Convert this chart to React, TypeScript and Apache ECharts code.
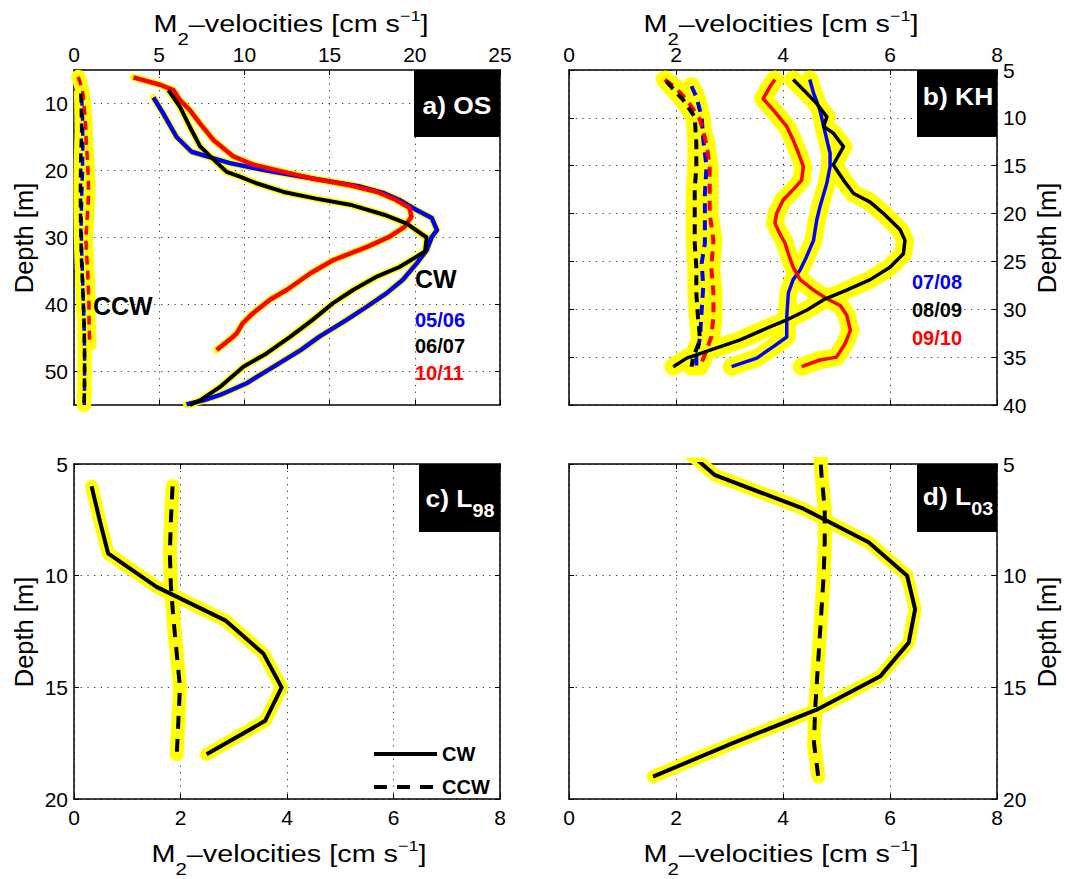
import React, { useEffect, useRef } from 'react';
import * as echarts from 'echarts';

const FONT = '"Liberation Sans", Arial, Helvetica, sans-serif';

// ---------- Panel a) OS : CW profiles ----------
const aBlueDepth = [9.1, 11.5, 15.0, 17.2, 17.9, 18.9, 20.0, 20.9, 21.7, 22.4, 23.4, 24.4, 25.9, 27.1, 28.9, 29.9, 31.9, 33.9, 36.3, 38.3, 40.3, 42.3, 44.8, 46.8, 49.3, 51.8, 53.5, 54.3, 54.9];
const aBlueVel = [4.66, 5.24, 6.02, 6.9, 7.8, 9.15, 11.3, 13.3, 15.2, 16.8, 18.2, 19.1, 20.1, 21.0, 21.3, 21.0, 20.7, 20.1, 19.3, 18.35, 17.2, 16.0, 14.4, 13.3, 11.7, 10.1, 8.57, 7.6, 6.6];
const aBlackDepth = [8.0, 10.5, 13.5, 16.4, 17.9, 20.2, 20.9, 21.9, 23.2, 24.2, 25.1, 26.6, 27.9, 30.0, 32.1, 34.4, 35.8, 37.8, 39.8, 42.3, 44.8, 47.3, 49.3, 52.3, 54.3, 55.0];
const aBlackVel = [5.54, 6.22, 6.8, 7.4, 8.0, 8.96, 9.74, 10.7, 12.3, 14.2, 16.2, 18.2, 19.5, 20.7, 20.6, 19.1, 17.8, 16.4, 15.2, 14.0, 12.7, 11.3, 9.94, 8.57, 7.4, 6.8];
const aRedDepth = [6.1, 7.2, 8.0, 9.5, 11.0, 13.0, 15.5, 17.9, 19.1, 20.2, 21.3, 22.2, 23.2, 24.4, 25.6, 26.9, 28.4, 29.9, 31.4, 33.4, 35.3, 37.8, 39.3, 41.3, 42.8, 44.3, 45.0, 46.8];
const aRedVel = [3.48, 5.05, 5.83, 6.22, 6.8, 7.4, 8.2, 9.35, 10.5, 12.3, 14.2, 16.2, 17.8, 18.9, 19.7, 19.8, 19.4, 18.5, 17.2, 15.2, 13.9, 12.5, 11.5, 10.5, 9.9, 9.55, 9.25, 8.37];
// Panel a) CCW profiles
const aCcwBlackDepth = [8.5, 10, 14, 18, 22, 26, 30, 34, 38, 42, 46, 50, 54, 55];
const aCcwBlackVel = [0.4, 0.42, 0.45, 0.4, 0.38, 0.38, 0.4, 0.45, 0.52, 0.58, 0.62, 0.62, 0.6, 0.58];
const aCcwBlueDepth = [9, 12, 16, 20, 24, 28, 32, 36, 40, 44, 48, 52, 55];
const aCcwBlueVel = [0.45, 0.5, 0.52, 0.5, 0.45, 0.42, 0.45, 0.5, 0.55, 0.6, 0.62, 0.62, 0.6];
const aCcwRedDepth = [6, 8, 10, 12, 14, 16, 18, 20, 22, 24, 26, 28, 30, 32, 34, 36, 38, 40, 42, 44, 46];
const aCcwRedVel = [0.25, 0.5, 0.58, 0.65, 0.7, 0.72, 0.78, 0.82, 0.85, 0.85, 0.8, 0.75, 0.7, 0.72, 0.78, 0.82, 0.85, 0.88, 0.88, 0.9, 0.92];

// ---------- Panel b) KH ----------
const bBlackDepth = [6.0, 7.4, 8.5, 9.9, 10.9, 11.6, 13.0, 14.9, 16.5, 17.9, 18.8, 20.0, 21.7, 22.8, 24.2, 25.6, 26.9, 28.0, 29.0, 30.1, 31.1, 32.0, 33.2, 34.4, 35.1, 36.0];
const bBlackVel = [4.19, 4.44, 4.63, 4.82, 4.76, 4.94, 5.13, 4.94, 5.13, 5.32, 5.63, 5.88, 6.19, 6.28, 6.25, 6.0, 5.63, 5.19, 4.76, 4.44, 4.07, 3.69, 3.2, 2.57, 2.2, 1.95];
const bBlueDepth = [6.0, 7.4, 9.2, 11.6, 13.7, 15.1, 16.8, 19.3, 20.7, 22.8, 24.5, 25.9, 26.9, 28.3, 30.8, 32.9, 33.9, 35.1, 36.0];
const bBlueVel = [4.5, 4.57, 4.69, 4.79, 4.88, 4.88, 4.82, 4.69, 4.63, 4.57, 4.44, 4.32, 4.19, 4.1, 4.07, 4.07, 3.82, 3.51, 3.04];
const bRedDepth = [6.0, 6.7, 8.0, 9.2, 10.9, 12.3, 13.7, 15.1, 16.5, 17.5, 18.6, 20.0, 21.0, 22.1, 23.1, 24.2, 25.6, 26.9, 28.0, 28.9, 29.6, 30.6, 32.2, 33.6, 35.0, 35.3, 36.0];
const bRedVel = [3.85, 3.76, 3.63, 3.82, 4.07, 4.19, 4.29, 4.38, 4.35, 4.19, 4.0, 3.88, 3.85, 3.94, 4.04, 4.1, 4.19, 4.32, 4.57, 4.82, 5.07, 5.19, 5.26, 5.16, 5.0, 4.69, 4.35];
const bCcwRedDepth = [6.0, 6.9, 8.1, 10.2, 12.7, 15.1, 17.5, 20.0, 22.8, 25.6, 28.3, 30.8, 32.9, 34.3, 36.0];
const bCcwRedVel = [1.79, 2.0, 2.2, 2.45, 2.57, 2.63, 2.63, 2.63, 2.7, 2.66, 2.7, 2.7, 2.66, 2.57, 2.45];
const bCcwBlueDepth = [6.7, 7.8, 9.9, 12.3, 15.1, 17.9, 20.3, 23.1, 25.2, 27.6, 30.1, 32.9, 35.0, 36.0];
const bCcwBlueVel = [2.29, 2.38, 2.48, 2.51, 2.57, 2.54, 2.54, 2.54, 2.48, 2.51, 2.48, 2.45, 2.38, 2.38];
const bCcwBlackDepth = [6.2, 8.1, 9.9, 12.7, 15.1, 17.5, 20.3, 23.1, 25.6, 28.3, 30.8, 33.2, 35.0, 36.0];
const bCcwBlackVel = [1.82, 2.13, 2.35, 2.38, 2.38, 2.35, 2.35, 2.35, 2.38, 2.38, 2.41, 2.45, 2.32, 2.29];

// ---------- Panel c) L98 ----------
const cDepth = [6, 7.5, 9, 10.5, 12, 13.5, 15, 16.5, 18];
const cCwVel = [0.33, 0.48, 0.64, 1.55, 2.84, 3.56, 3.9, 3.59, 2.49];
const cCcwVel = [1.85, 1.82, 1.8, 1.82, 1.87, 1.93, 1.99, 1.96, 1.93];

// ---------- Panel d) L03 ----------
const dDepth = [4, 5.5, 7, 8.5, 10, 11.5, 13, 14.5, 16, 17.5, 19];
const dCwVel = [2.0, 2.73, 4.38, 5.6, 6.32, 6.47, 6.35, 5.82, 4.63, 3.06, 1.57];
const dCcwVel = [4.68, 4.72, 4.78, 4.78, 4.76, 4.72, 4.68, 4.64, 4.6, 4.58, 4.66];

// Axis ticks
const aDepthTicks = [10, 20, 30, 40, 50];

const BLUE = '#0000ff';
const RED = '#ff0000';
const BLACK = '#000000';
const YELLOW = '#ffff00';

const zip = (v: number[], d: number[]) => v.map((x, i) => [x, d[i]]);

function band(g: number, v: number[], d: number[], width: number, name: string) {
  return {
    type: 'line', name, xAxisIndex: 2 * g, yAxisIndex: 2 * g, data: zip(v, d),
    symbol: 'none', silent: true, z: 2, animation: false,
    itemStyle: { color: YELLOW },
    lineStyle: { color: YELLOW, width, cap: 'round', join: 'round' },
  };
}
function ln(g: number, v: number[], d: number[], color: string, width: number, dashed: boolean, name: string, dash?: number[]) {
  return {
    type: 'line', name, xAxisIndex: 2 * g, yAxisIndex: 2 * g, data: zip(v, d),
    symbol: 'none', silent: true, z: 3, animation: false,
    itemStyle: { color },
    lineStyle: { color, width, type: dashed ? (dash || [10, 7]) : 'solid', cap: 'butt', join: 'round' },
  };
}

const axisLine = { show: true, onZero: false, lineStyle: { color: '#000', width: 1.5 } };
const splitLine = { show: true, lineStyle: { color: '#333', width: 1, type: [1.2, 5.5] } };
const tickStyle = { inside: true, length: 5, lineStyle: { color: '#000', width: 1 } };
const labelStyle = { color: '#000', fontSize: 21, fontFamily: FONT, showMinLabel: true, showMaxLabel: true };

function xPair(g: number, pos: 'top' | 'bottom', min: number, max: number, interval: number) {
  const other = pos === 'top' ? 'bottom' : 'top';
  return [
    { type: 'value', gridIndex: g, position: pos, min, max, interval, axisLine, axisTick: tickStyle,
      axisLabel: { ...labelStyle, margin: pos === 'top' ? 5 : 8 }, splitLine },
    { type: 'value', gridIndex: g, position: other, min, max, interval, axisLine, axisTick: tickStyle,
      axisLabel: { show: false }, splitLine: { show: false } },
  ];
}
function yPair(g: number, pos: 'left' | 'right', min: number, max: number, interval: number | null, custom?: number[]) {
  const other = pos === 'left' ? 'right' : 'left';
  const base: any = { type: 'value', gridIndex: g, min, max, inverse: true };
  if (interval !== null) base.interval = interval;
  const tick: any = custom ? { ...tickStyle, customValues: custom } : tickStyle;
  const lab: any = { ...labelStyle, margin: 6 };
  if (custom) lab.customValues = custom;
  return [
    { ...base, position: pos, axisLine, axisTick: tick, axisLabel: lab, splitLine },
    { ...base, position: other, axisLine, axisTick: tick, axisLabel: { show: false }, splitLine: { show: false } },
  ];
}

const titleRich = {
  a: { fontSize: 24, fontFamily: FONT, lineHeight: 48, verticalAlign: 'middle', fill: '#000' },
  s: { fontSize: 17, fontFamily: FONT, lineHeight: 18, verticalAlign: 'bottom', fill: '#000' },
  p: { fontSize: 15, fontFamily: FONT, lineHeight: 16, verticalAlign: 'top', padding: [9, 0, 0, 0], fill: '#000' },
};
const TITLE = '{a|M}{s|2}{a|\u2013velocities [cm s}{p|\u22121}{a|]}';

function xTitle(x: number, y: number) {
  return { type: 'text', x, y, z: 10, scaleX: 1.2,
    style: { text: TITLE, rich: titleRich, align: 'center', verticalAlign: 'middle' } };
}
function yTitle(x: number, y: number) {
  return { type: 'text', x, y, rotation: Math.PI / 2, z: 10,
    style: { text: 'Depth [m]', fontSize: 25.5, fontFamily: FONT, fill: '#000', align: 'center', verticalAlign: 'middle' } };
}
function box(x: number, y: number, w: number, h: number) {
  return { type: 'rect', z: 20, shape: { x, y, width: w, height: h }, style: { fill: '#000' } };
}
function boxText(x: number, y: number, main: string, sub?: string) {
  if (!sub) {
    return { type: 'text', x, y, z: 21, scaleX: 1.1,
      style: { text: main, fontSize: 24, fontWeight: 'bold', fontFamily: FONT, fill: '#fff', align: 'center', verticalAlign: 'middle' } };
  }
  return { type: 'text', x, y, z: 21, scaleX: 1.1, style: {
    text: `{b|${main}}{s|${sub}}`, align: 'center', verticalAlign: 'middle',
    rich: {
      b: { fontSize: 24, fontWeight: 'bold', fontFamily: FONT, fill: '#fff', lineHeight: 44, verticalAlign: 'middle' },
      s: { fontSize: 18, fontWeight: 'bold', fontFamily: FONT, fill: '#fff', lineHeight: 18, verticalAlign: 'bottom' },
    } } };
}
function label(x: number, y: number, text: string, color: string, size: number) {
  return { type: 'text', x, y, z: 15, style: { text, fontSize: size, fontWeight: 'bold', fontFamily: FONT, fill: color, align: 'left', verticalAlign: 'middle' } };
}

export default function App() {
  const ref = useRef<HTMLDivElement>(null);
  useEffect(() => {
    const chart = echarts.init(ref.current!, null, { renderer: 'svg' });
    const option: any = {
      animation: false,
      backgroundColor: '#fff',
      grid: [
        { left: 74, top: 70, width: 426, height: 335, outerBoundsMode: 'none' },
        { left: 569, top: 70, width: 428, height: 335, outerBoundsMode: 'none' },
        { left: 74, top: 464, width: 426, height: 335, outerBoundsMode: 'none' },
        { left: 569, top: 464, width: 428, height: 335, outerBoundsMode: 'none' },
      ],
      xAxis: [
        ...xPair(0, 'top', 0, 25, 5),
        ...xPair(1, 'top', 0, 8, 2),
        ...xPair(2, 'bottom', 0, 8, 2),
        ...xPair(3, 'bottom', 0, 8, 2),
      ],
      yAxis: [
        ...yPair(0, 'left', 5, 55, null, aDepthTicks),
        ...yPair(1, 'right', 5, 40, 5),
        ...yPair(2, 'left', 5, 20, 5),
        ...yPair(3, 'right', 5, 20, 5),
      ],
      legend: {
        show: true, orient: 'vertical', left: 367, top: 739, itemWidth: 63, itemHeight: 14, itemGap: 13,
        data: ['CW', 'CCW'], selectedMode: false,
        itemStyle: { opacity: 0, borderWidth: 0 },
        lineStyle: { width: 4 },
        textStyle: { fontSize: 20, fontWeight: 'bold', fontFamily: FONT, color: '#000' },
      },
      series: [
        // panel a
        band(0, aCcwBlackVel, aCcwBlackDepth, 14, 'ya1'),
        band(0, aCcwBlueVel, aCcwBlueDepth, 14, 'ya2'),
        band(0, aCcwRedVel, aCcwRedDepth, 14, 'ya3'),
        band(0, aBlueVel, aBlueDepth, 7, 'ya4'),
        band(0, aBlackVel, aBlackDepth, 7, 'ya5'),
        band(0, aRedVel, aRedDepth, 7, 'ya6'),
        ln(0, aCcwBlueVel, aCcwBlueDepth, BLUE, 3.5, true, 'a ccw 05/06', [9, 6]),
        ln(0, aCcwRedVel, aCcwRedDepth, RED, 3.5, true, 'a ccw 10/11', [9, 6]),
        ln(0, aCcwBlackVel, aCcwBlackDepth, BLACK, 3.5, true, 'a ccw 06/07', [9, 6]),
        ln(0, aBlueVel, aBlueDepth, BLUE, 4.5, false, 'a cw 05/06'),
        ln(0, aRedVel, aRedDepth, RED, 4.5, false, 'a cw 10/11'),
        ln(0, aBlackVel, aBlackDepth, BLACK, 4, false, 'a cw 06/07'),
        // panel b
        band(1, bCcwRedVel, bCcwRedDepth, 18, 'yb1'),
        band(1, bCcwBlueVel, bCcwBlueDepth, 18, 'yb2'),
        band(1, bCcwBlackVel, bCcwBlackDepth, 18, 'yb3'),
        band(1, bBlueVel, bBlueDepth, 18, 'yb4'),
        band(1, bRedVel, bRedDepth, 18, 'yb5'),
        band(1, bBlackVel, bBlackDepth, 18, 'yb6'),
        ln(1, bCcwBlueVel, bCcwBlueDepth, BLUE, 4, true, 'b ccw 07/08'),
        ln(1, bCcwRedVel, bCcwRedDepth, RED, 4, true, 'b ccw 09/10'),
        ln(1, bCcwBlackVel, bCcwBlackDepth, BLACK, 4, true, 'b ccw 08/09'),
        ln(1, bBlueVel, bBlueDepth, BLUE, 3.5, false, 'b cw 07/08'),
        ln(1, bRedVel, bRedDepth, RED, 3.5, false, 'b cw 09/10'),
        ln(1, bBlackVel, bBlackDepth, BLACK, 3.5, false, 'b cw 08/09'),
        // panel c
        band(2, cCwVel, cDepth, 13, 'yc1'),
        band(2, cCcwVel, cDepth, 14, 'yc2'),
        ln(2, cCcwVel, cDepth, BLACK, 4, true, 'CCW', [13, 10]),
        ln(2, cCwVel, cDepth, BLACK, 4, false, 'CW'),
        // panel d
        band(3, dCwVel, dDepth, 13, 'yd1'),
        band(3, dCcwVel, dDepth, 14, 'yd2'),
        ln(3, dCcwVel, dDepth, BLACK, 4, true, 'd ccw', [13, 10]),
        ln(3, dCwVel, dDepth, BLACK, 4, false, 'd cw'),
      ],
      graphic: [
        xTitle(291, 24), xTitle(781, 24), xTitle(289, 854), xTitle(781, 854),
        yTitle(24, 238), yTitle(1047, 238), yTitle(24, 632), yTitle(1047, 632),
        box(414, 70, 86, 67), boxText(457, 105, 'a) OS'),
        box(917, 70, 80, 67), boxText(958, 96, 'b) KH'),
        box(419, 464, 81, 68), boxText(460, 498, 'c) L', '98'),
        box(917, 464, 80, 68), boxText(958, 496, 'd) L', '03'),
        label(93, 306, 'CCW', BLACK, 25),
        label(415, 279, 'CW', BLACK, 25),
        label(415, 320, '05/06', BLUE, 20),
        label(415, 346, '06/07', BLACK, 20),
        label(415, 373, '10/11', RED, 20),
        label(912, 282, '07/08', BLUE, 20),
        label(912, 310, '08/09', BLACK, 20),
        label(912, 338, '09/10', RED, 20),
      ],
    };
    chart.setOption(option);
    return () => chart.dispose();
  }, []);
  return <div ref={ref} style={{ position: 'absolute', left: 0, top: 0, width: 1067, height: 879, background: '#fff' }} />;
}
